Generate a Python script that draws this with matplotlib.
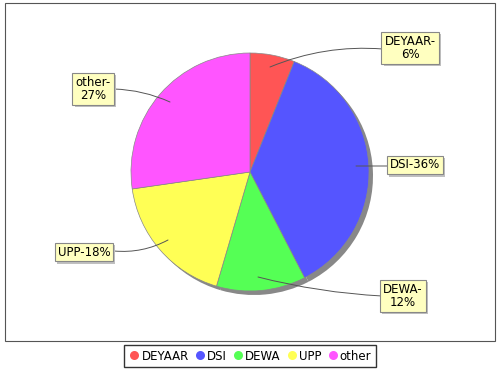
import matplotlib.pyplot as plt
import matplotlib.patheffects as pe
from matplotlib.patches import Rectangle
from matplotlib.lines import Line2D

names = ['DEYAAR', 'DSI', 'DEWA', 'UPP', 'other']
values = [6, 36, 12, 18, 27]
colors = ['#FF5555', '#5555FF', '#55FF55', '#FFFF55', '#FF55FF']

# label box centres and the point on the slice the link goes to (pixels, y down)
label_pos = [(410, 48), (415, 165), (403, 296), (84, 252), (93, 89)]
link_end = [(270, 67), (356, 166), (258, 277), (168, 240), (170, 102)]
link_start = [(383, 49), (388, 166), (382, 296), (114, 251), (114, 89)]
link_rad = [0.12, 0.0, -0.05, 0.15, -0.1]

W, H = 500, 370
fig = plt.figure(figsize=(5, 3.7), dpi=100)
ax = fig.add_axes([0, 0, 1, 1])

# plot area frame
ax.add_patch(Rectangle((5, H - 341), 490, 338, facecolor='white',
                       edgecolor='#555555', lw=0.8, zorder=0))

cx, cy, r = 250, H - 172, 119
# shadow
ax.pie(values, colors=['#888888'] * len(values), center=(cx + 4, cy - 4),
       radius=r, startangle=90, counterclock=False,
       wedgeprops=dict(linewidth=0), frame=True)
ax.pie(values, colors=colors, center=(cx, cy), radius=r, startangle=90,
       counterclock=False, wedgeprops=dict(linewidth=0.5, edgecolor='#888888'),
       frame=True)
ax.set_xlim(0, W)
ax.set_ylim(0, H)
ax.set_aspect('equal')
ax.axis('off')

total = sum(values)
for i, n in enumerate(names):
    pct = round(100 * values[i] / total)
    if n in ('DSI', 'UPP'):
        txt = f'{n}-{pct}%'
    else:
        txt = f'{n}-\n{pct}%'
    lx, ly = label_pos[i]
    sx, sy = link_start[i]
    ex, ey = link_end[i]
    ax.annotate('', xy=(ex, H - ey), xytext=(sx, H - sy),
                arrowprops=dict(arrowstyle='-', color='#555555', lw=0.7,
                                connectionstyle=f'arc3,rad={link_rad[i]}',
                                shrinkA=0, shrinkB=0), zorder=3)
    t = ax.text(lx, H - ly, txt, ha='center', va='center', fontsize=8.5,
                linespacing=1.0,
                bbox=dict(boxstyle='square,pad=0.25', facecolor='#FFFFC0',
                          edgecolor='#888888', lw=0.8), zorder=5)
    t.get_bbox_patch().set_path_effects([
        pe.SimplePatchShadow(offset=(1.5, -1.5), shadow_rgbFace='#C0C0C0', alpha=1.0),
        pe.Normal()])

handles = [Line2D([], [], marker='o', ls='', markersize=6.5, markerfacecolor=c,
                  markeredgecolor='none') for c in colors]
leg = fig.legend(handles, names, loc='center', bbox_to_anchor=(0.5, 1 - 356 / H),
                 ncol=5, fontsize=8.5, frameon=True, fancybox=False,
                 handletextpad=0.1, columnspacing=0.45, handlelength=1.0,
                 borderpad=0.35, borderaxespad=0)
leg.get_frame().set_edgecolor('black')
leg.get_frame().set_linewidth(1.0)

fig.savefig('out.png', dpi=100)
